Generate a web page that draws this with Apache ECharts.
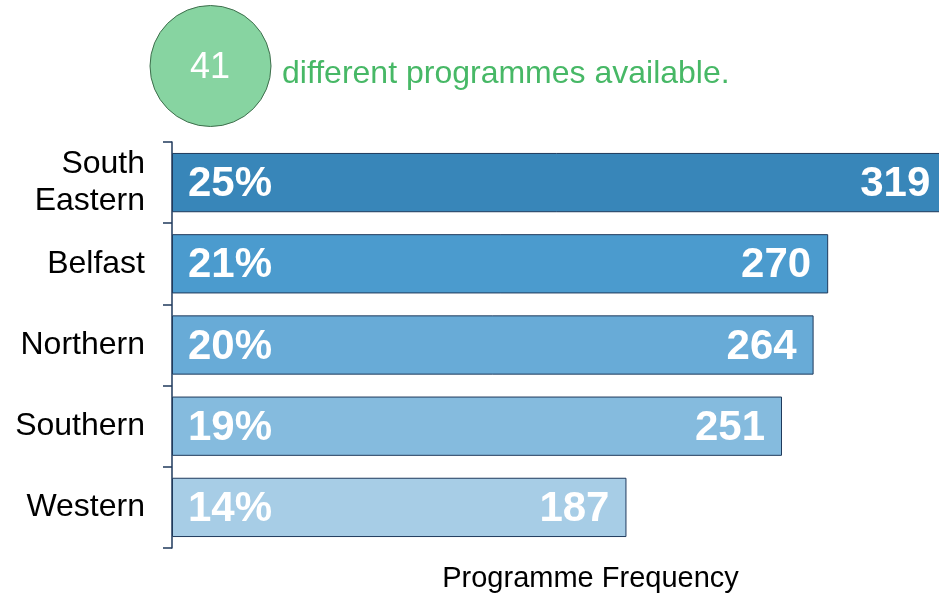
<!DOCTYPE html>
<html>
<head>
<meta charset="utf-8">
<script src="https://cdn.jsdelivr.net/npm/echarts@6/dist/echarts.min.js"></script>
<style>
    html, body { margin: 0; padding: 0; background: #fff; }
    #chart { width: 939px; height: 595px; }
</style>
</head>
<body>
<div id="chart"></div>
<script>
const regions = ['South\nEastern', 'Belfast', 'Northern', 'Southern', 'Western'];
const frequency = [319, 270, 264, 251, 187];
const percents = [25, 21, 20, 19, 14];
const barColors = ['#3886b9', '#4b9bce', '#68abd7', '#85bbde', '#a7cde6'];
const programmeCount = 41;

const FONT = 'Arial, "Liberation Sans", sans-serif';
const NAVY = '#1f3a5c';

const chart = echarts.init(document.getElementById('chart'));

const option = {
    animation: false,
    textStyle: { fontFamily: FONT },
    grid: { left: 172, right: 0, top: 142, bottom: 47, containLabel: false, outerBoundsMode: 'none' },
    xAxis: {
        type: 'value',
        min: 0,
        max: 315.6,   // the longest bar runs off the right edge, as in the original
        axisLine: { show: false },
        axisTick: { show: false },
        axisLabel: { show: false },
        splitLine: { show: false },
        name: 'Programme Frequency',
        nameLocation: 'middle',
        nameGap: 16,
        nameTextStyle: {
            color: '#000',
            fontSize: 29,
            fontFamily: FONT,
            verticalAlign: 'top',
            padding: [0, 0, 0, 70]
        }
    },
    yAxis: {
        type: 'category',
        inverse: true,
        data: regions,
        axisLine: { show: true, lineStyle: { color: NAVY, width: 1.5 } },
        axisTick: { show: true, length: 9, lineStyle: { color: NAVY, width: 1.5 } },
        axisLabel: {
            color: '#000',
            fontSize: 32,
            lineHeight: 37,
            margin: 27,
            fontFamily: FONT,
            align: 'right'
        }
    },
    series: [
        {
            type: 'bar',
            clip: false,
            data: frequency.map((v, i) => ({ value: v, itemStyle: { color: barColors[i] } })),
            barCategoryGap: '27%',
            itemStyle: { borderColor: NAVY, borderWidth: 1 },
            label: {
                show: true,
                position: 'insideRight',
                distance: 17,
                offset: [0, 2],
                color: '#fff',
                fontSize: 42,
                fontWeight: 'bold',
                fontFamily: FONT
            }
        },
        {
            type: 'bar',
            clip: false,
            data: frequency,
            barGap: '-100%',
            barCategoryGap: '27%',
            itemStyle: { color: 'transparent' },
            silent: true,
            label: {
                show: true,
                position: 'insideLeft',
                distance: 16,
                offset: [0, 2],
                color: '#fff',
                fontSize: 42,
                fontWeight: 'bold',
                fontFamily: FONT,
                formatter: p => percents[p.dataIndex] + '%'
            }
        }
    ],
    graphic: [
        {
            type: 'circle',
            shape: { cx: 210.5, cy: 66, r: 60.5 },
            style: { fill: '#87d4a1', stroke: '#3e6e4c', lineWidth: 1 }
        },
        {
            type: 'text',
            x: 210,
            y: 68,
            style: {
                text: String(programmeCount),
                fill: '#fff',
                font: '36px ' + FONT,
                align: 'center',
                verticalAlign: 'middle'
            }
        },
        {
            type: 'text',
            x: 282,
            y: 74,
            style: {
                text: 'different programmes available.',
                fill: '#47b866',
                font: '32px ' + FONT,
                align: 'left',
                verticalAlign: 'middle'
            }
        }
    ]
};

chart.setOption(option);
</script>
</body>
</html>
